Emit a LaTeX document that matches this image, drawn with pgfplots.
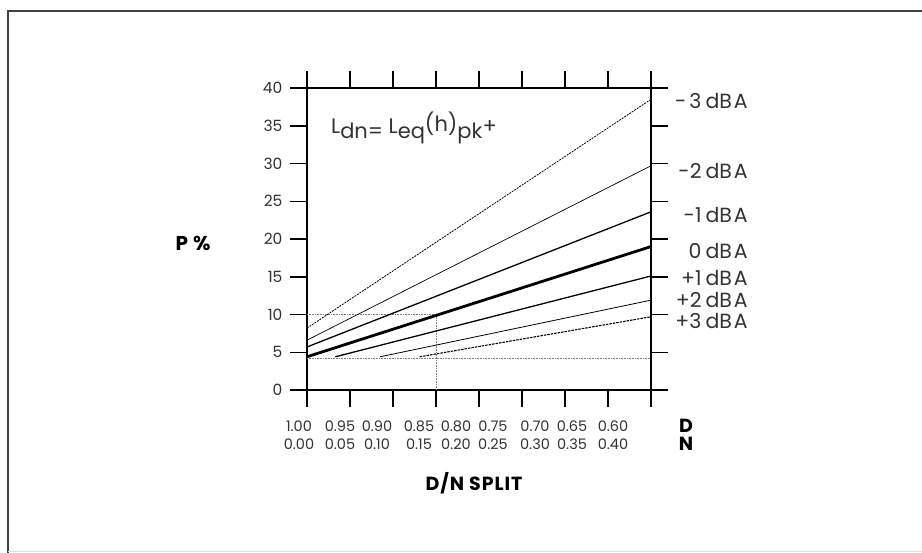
\documentclass[border=0pt]{standalone}
\usepackage{pgfplots}
\pgfplotsset{compat=1.18}
\usepackage{fontspec}
\setmainfont{Poppins}
\definecolor{txt}{HTML}{333333}
\begin{document}
\begin{tikzpicture}[x=1pt,y=1pt]
\path[use as bounding box] (0,0) rectangle (922,-553);
% outer frame
\draw[line width=1.6pt, black!75] (8,-553) -- (8,-11) -- (922,-11);
\draw[black!12] (8,-551) -- (922,-551);
\begin{axis}[
    at={(307pt,-390pt)}, anchor=south west,
    scale only axis, width=344pt, height=302pt,
    xmin=0, xmax=0.4, ymin=0, ymax=40,
    xtick={0,0.05,0.10,0.15,0.20,0.25,0.30,0.35,0.40},
    xticklabels={},
    ytick={0,5,10,15,20,25,30,35,40},
    yticklabel pos=left,
    tick align=outside,
    major tick length=17pt,
    axis line style={line width=1.4pt},
    tick style={line width=1.5pt, black},
    /pgf/number format/assume math mode=true,
    yticklabel style={font=\fontsize{15.5}{17}\selectfont, text=txt, xshift=-4pt},
    clip=false,
]
% guide lines
\addplot[densely dotted, gray, line width=0.6pt] coordinates {(0,10) (0.15,10) (0.15,0)};
\addplot[densely dotted, gray, line width=0.6pt] coordinates {(0,4.2) (0.4,4.2)};
% -3 dBA
\addplot[black, line width=0.8pt, dash pattern=on 2pt off 1pt] coordinates {(0,8.2) (0.4,38.5)};
% -2 dBA
\addplot[black, line width=0.7pt] coordinates {(0,6.6) (0.4,29.7)};
% -1 dBA
\addplot[black, line width=1.3pt] coordinates {(0,5.7) (0.4,23.6)};
% 0 dBA
\addplot[black, line width=2.8pt] coordinates {(0,4.4) (0.4,19.0)};
% +1 dBA
\addplot[black, line width=1.3pt] coordinates {(0.033,4.4) (0.4,15.1)};
% +2 dBA
\addplot[black, line width=0.8pt] coordinates {(0.085,4.4) (0.4,11.9)};
% +3 dBA
\addplot[black, line width=1.1pt, dash pattern=on 2.5pt off 1pt] coordinates {(0.131,4.4) (0.4,9.7)};
\end{axis}
% formula
\node[anchor=west, text=txt, font=\fontsize{21}{23}\selectfont, inner sep=0pt] at (331,-128)
  {\raisebox{5pt}{L}dn= \raisebox{5pt}{L}eq\raisebox{7pt}{(h)}pk\raisebox{5pt}{+}};
% right labels
\begin{scope}[every node/.style={anchor=east, text=txt, font=\fontsize{20.5}{22}\selectfont, inner sep=0pt}]
\node at (748,-101) {-\kern3pt 3\kern4pt dB\kern2pt A};
\node at (748,-171) {-2\kern4pt dB\kern2pt A};
\node at (748,-215) {-1\kern4pt dB\kern2pt A};
\node at (748,-251) {0\kern4pt dB\kern2pt A};
\node at (748,-278) {+1\kern4pt dB\kern2pt A};
\node at (748,-300) {+2\kern4pt dB\kern2pt A};
\node at (748,-321) {+3\kern4pt dB\kern2pt A};
\end{scope}
% x tick labels (D and N rows)
\foreach \x/\d/\n in {299/1.00/0.00, 340/0.95/0.05, 377/0.90/0.10, 419/0.85/0.15,
    456/0.80/0.20, 493/0.75/0.25, 535/0.70/0.30, 572/0.65/0.35, 613/0.60/0.40} {
  \node[text=txt, font=\fontsize{14.5}{16}\selectfont, inner sep=0pt] at (\x,-426) {\d};
  \node[text=txt, font=\fontsize{14.5}{16}\selectfont, inner sep=0pt] at (\x,-444) {\n};
}
\node[font=\bfseries\fontsize{19}{21}\selectfont, inner sep=0pt] at (686,-426) {D};
\node[font=\bfseries\fontsize{19}{21}\selectfont, inner sep=0pt] at (686,-444) {N};
\node[font=\bfseries\fontsize{19}{21}\selectfont\addfontfeature{LetterSpace=5}, inner sep=0pt] at (474,-483) {D/N SPLIT};
\node[font=\bfseries\fontsize{20}{22}\selectfont, inner sep=0pt] at (193,-243) {P\kern5pt\%};
\end{tikzpicture}
\end{document}
